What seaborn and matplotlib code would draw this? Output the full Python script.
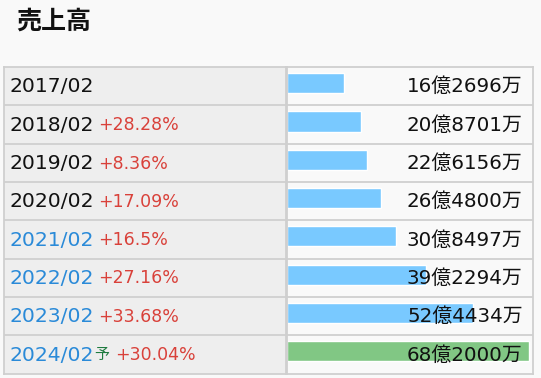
import matplotlib
matplotlib.use("Agg")
import matplotlib.pyplot as plt
import seaborn as sns
import pandas as pd

# data (億円)
periods = ["2017/02", "2018/02", "2019/02", "2020/02",
           "2021/02", "2022/02", "2023/02", "2024/02"]
sales = [16.2696, 20.8701, 22.6156, 26.4800,
         30.8497, 39.2294, 52.4434, 68.2000]
sales_labels = ["16億2696万", "20億8701万", "22億6156万", "26億4800万",
                "30億8497万", "39億2294万", "52億4434万", "68億2000万"]
growth = ["", "+28.28%", "+8.36%", "+17.09%",
          "+16.5%", "+27.16%", "+33.68%", "+30.04%"]
forecast = [False, False, False, False, False, False, False, True]
recent = [False, False, False, False, True, True, True, True]

df = pd.DataFrame({"period": periods, "sales": sales})

sns.set_theme(style="white")
plt.rcParams["font.family"] = ["DejaVu Sans", "Noto Sans CJK JP"]

W, H = 541, 378
fig = plt.figure(figsize=(W / 100, H / 100), dpi=100)
fig.patch.set_facecolor("#f9f9f9")

top, bottom = 67, 373.5
left_x0, div_x, right_x1 = 4, 286.5, 533
n = len(periods)

def frac(x0, x1):
    return [x0 / W, (H - bottom) / H, (x1 - x0) / W, (bottom - top) / H]

ax_l = fig.add_axes(frac(left_x0, div_x))
ax_r = fig.add_axes(frac(div_x, right_x1))

border = "#cfcfcf"
for ax, fc in [(ax_l, "#eeeeee"), (ax_r, "#f9f9f9")]:
    ax.set_facecolor(fc)
    for s in ax.spines.values():
        s.set_color(border)
        s.set_linewidth(1.3)
    ax.set_xticks([])
    ax.set_yticks([])

# bar column
bar_colors = ["#81c784" if f else "#79c9ff" for f in forecast]
sns.barplot(data=df, x="sales", y="period", hue="period", palette=bar_colors,
            legend=False, orient="h", width=0.53, ax=ax_r, saturation=1)
shift = 0.08
ax_r.set_ylim(n - 0.5 + shift, -0.5 + shift)
ax_r.set_xlim(0, 69.3)
ax_r.set_xlabel("")
ax_r.set_ylabel("")
ax_r.set_xticks([])
ax_r.set_yticks([])
for i in range(n - 1):
    ax_r.axhline(i + 0.5 + shift, color=border, lw=1.3)
for i, lab in enumerate(sales_labels):
    ax_r.text(0.958, i + shift + 0.02, lab, transform=ax_r.get_yaxis_transform(),
              ha="right", va="center", fontsize=14.3, color="#111111")

# label column
ax_l.set_xlim(0, 1)
ax_l.set_ylim(n - 0.5, -0.5)
for i in range(n - 1):
    ax_l.axhline(i + 0.5, color=border, lw=1.3)
for i, p in enumerate(periods):
    t = ax_l.text(5.5 / (div_x - left_x0), i + 0.02, p, ha="left", va="center",
                  fontsize=14.7, color="#2a8ad8" if recent[i] else "#111111")
    anchor = t
    if forecast[i]:
        anchor = ax_l.annotate("予", xy=(1, 0.5), xycoords=t, xytext=(0.5, 0),
                               textcoords="offset points", ha="left", va="center",
                               fontsize=10.8, color="#1e7b3f",
                               family=["Noto Sans CJK JP"])
    if growth[i]:
        ax_l.annotate(growth[i], xy=(1, 0.5), xycoords=anchor,
                      xytext=(3 if not forecast[i] else 4, 0),
                      textcoords="offset points", ha="left", va="center",
                      fontsize=12.5, color="#d9413a")

fig.text(16 / W, 1 - 22 / H, "売上高", ha="left", va="center",
         fontsize=18, fontweight="bold", color="#111111",
         family=["Noto Sans CJK JP"])

fig.savefig("out.png", dpi=100, facecolor=fig.get_facecolor())
